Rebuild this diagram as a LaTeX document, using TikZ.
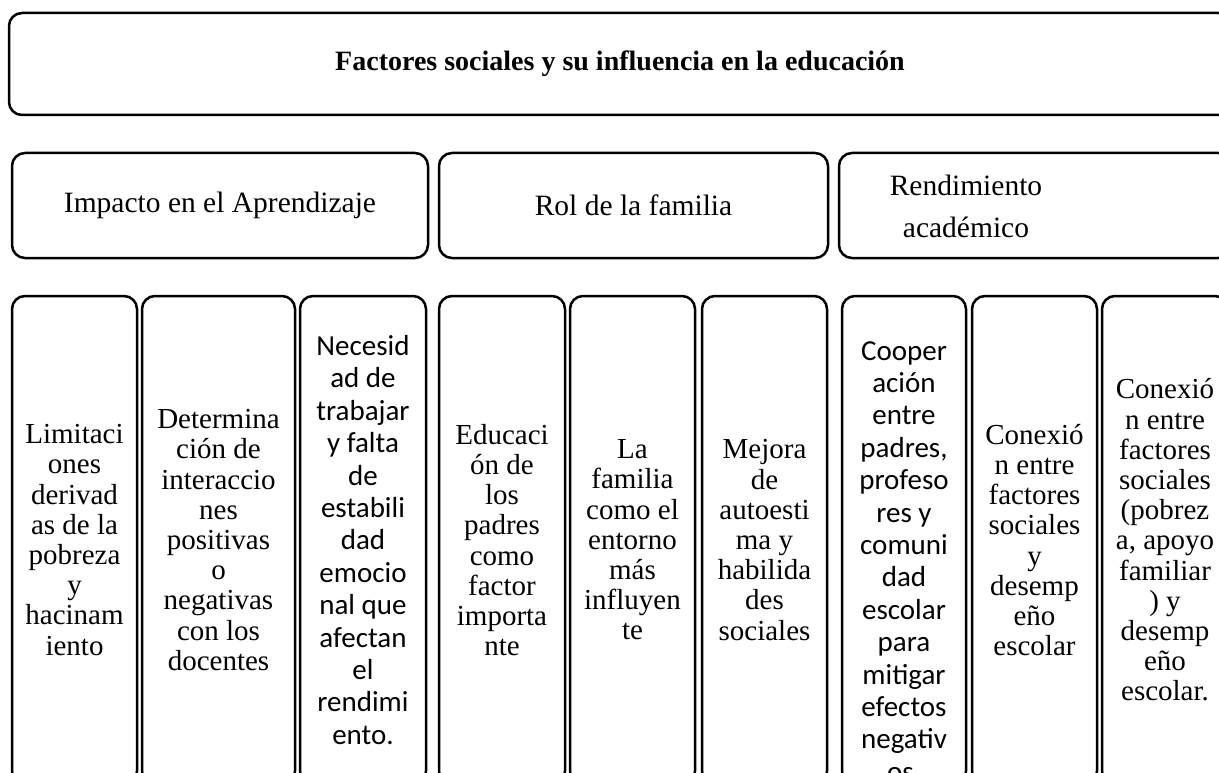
\documentclass[tikz,border=0pt]{standalone}
\usepackage{fontspec}
\setmainfont{Liberation Serif}
\newfontfamily\calfont{Carlito}
\begin{document}
\begin{tikzpicture}[x=1pt,y=-1pt,
  box/.style={draw=black, line width=2.5pt, rounded corners=13pt, inner sep=0pt, align=center},
  serif/.style={font=\fontsize{29}{30.2}\selectfont},
  cal/.style={font=\calfont\fontsize{29}{32.4}\selectfont},
  head/.style={font=\fontsize{29.5}{42}\selectfont},
  col/.style={box, minimum height=488pt},
]
\useasboundingbox (0,0) rectangle (1219,773);
\clip (0,0) rectangle (1219,773);
% title
\node[box, minimum width=1222pt, minimum height=102pt, font=\bfseries\fontsize{28}{30}\selectfont] (title) at (620,64) {Factores sociales y su influencia en la educación};
% row 2
\node[box, head, minimum width=416pt, minimum height=105pt] (impacto) at (220,205.5) {\raisebox{-2pt}{Impacto en el Aprendizaje}};
\node[box, head, minimum width=389pt, minimum height=105pt] (rol) at (633.5,205.5) {Rol de la familia};
\node[box, minimum width=392pt, minimum height=105pt] (rend) at (1035,205.5) {};
\node[head, align=center, inner sep=0pt] (rendt) at (966,206) {Rendimiento\\académico};
% row 3
\node[col, serif, minimum width=125pt] (c1) at (74.5,540) {Limitaci\\ones\\derivad\\as de la\\pobreza\\y\\hacinam\\iento};
\node[col, serif, minimum width=153pt] (c2) at (218.5,540) {Determina\\ción de\\interaccio\\nes\\positivas\\o\\negativas\\con los\\docentes};
\node[col, cal, minimum width=126pt] (c3) at (363,540) {Necesid\\ad de\\trabajar\\y falta\\de\\estabili\\dad\\emocio\\nal que\\afectan\\el\\rendimi\\ento.};
\node[col, serif, minimum width=126pt] (c4) at (502,540) {Educaci\\ón de\\los\\padres\\como\\factor\\importa\\nte};
\node[col, serif, minimum width=125pt] (c5) at (632.5,540) {La\\familia\\como el\\entorno\\más\\influyen\\te};
\node[col, serif, minimum width=125pt] (c6) at (764.5,540) {Mejora\\de\\autoesti\\ma y\\habilida\\des\\sociales};
\node[col, minimum width=124pt] (c7) at (904,540) {};
\node[cal, align=center, inner sep=0pt, anchor=north] (c7t) at (904,341) {Cooper\\ación\\entre\\padres,\\profeso\\res y\\comuni\\dad\\escolar\\para\\mitigar\\efectos\\negativ\\os.};
\node[col, serif, minimum width=125pt] (c8) at (1034.5,540) {Conexió\\n entre\\factores\\sociales\\y\\desemp\\eño\\escolar};
\node[col, serif, minimum width=126pt] (c9) at (1165,540) {Conexió\\n entre\\factores\\sociales\\(pobrez\\a, apoyo\\familiar\\) y\\desemp\\eño\\escolar.};
\end{tikzpicture}
\end{document}
